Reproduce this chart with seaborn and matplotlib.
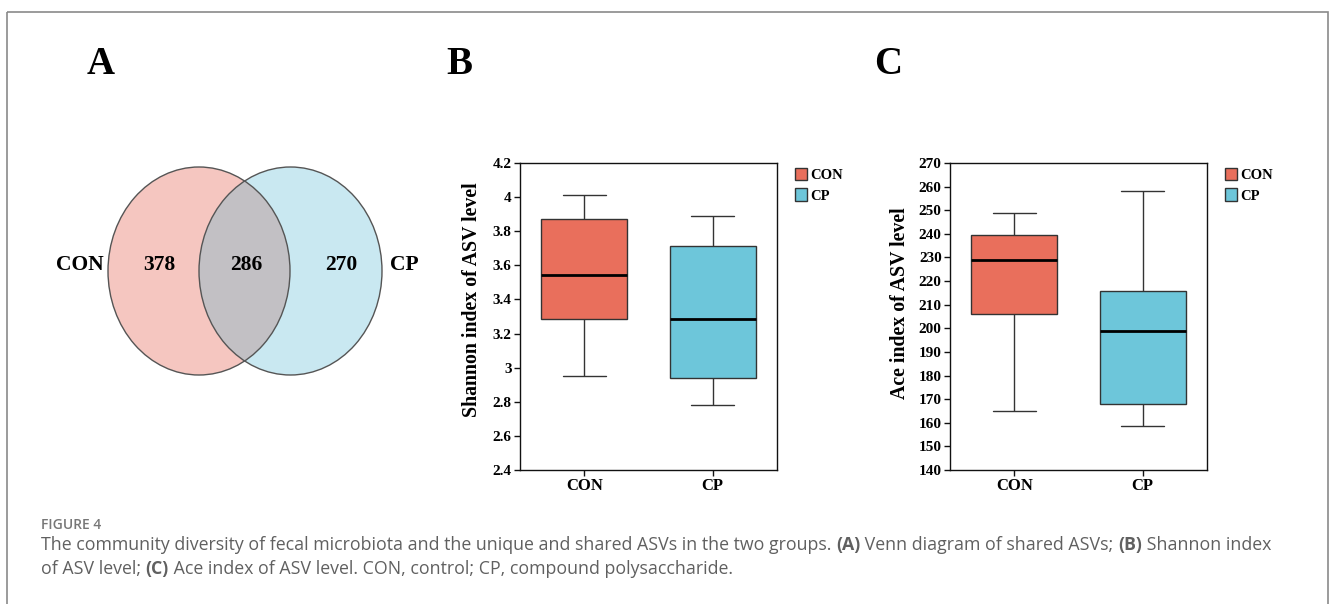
import numpy as np
import pandas as pd
import matplotlib
matplotlib.use("Agg")
import matplotlib.pyplot as plt
import seaborn as sns
from matplotlib.patches import Ellipse, Rectangle, Patch
from matplotlib.ticker import FormatStrFormatter

# ---------------- data ----------------
groups = ["CON", "CP"]
# five-number summaries: low whisker, Q1, median, Q3, high whisker
shannon_con = [2.95, 3.285, 3.545, 3.87, 4.01]
shannon_cp = [2.78, 2.94, 3.285, 3.715, 3.89]
ace_con = [165, 206, 229, 239.5, 249]
ace_cp = [158.5, 168, 199, 216, 258]
shannon_ticks = [2.4, 2.6, 2.8, 3.0, 3.2, 3.4, 3.6, 3.8, 4.0, 4.2]
ace_ticks = [140, 150, 160, 170, 180, 190, 200, 210, 220, 230, 240, 250, 260, 270]
venn_sets = ["CON", "CP"]
venn_only_con = 378
venn_shared = 286
venn_only_cp = 270
panel_letters = ["A", "B", "C"]
caption_title = "FIGURE 4"
caption_line1 = [("The community diversity of fecal microbiota and the unique and shared ASVs in the two groups. ", "normal"),
                 ("(A)", "bold"), (" Venn diagram of shared ASVs; ", "normal"),
                 ("(B)", "bold"), (" Shannon index", "normal")]
caption_line2 = [("of ASV level; ", "normal"), ("(C)", "bold"),
                 (" Ace index of ASV level. CON, control; CP, compound polysaccharide.", "normal")]

palette = {"CON": "#E96F5C", "CP": "#6DC6DA"}
SERIF = "Liberation Serif"
SANS = "Open Sans"

sns.set_style("white")
plt.rcParams["font.family"] = [SERIF, "DejaVu Serif"]
plt.rcParams["text.color"] = "black"
plt.rcParams["axes.labelcolor"] = "black"
plt.rcParams["xtick.color"] = "black"
plt.rcParams["ytick.color"] = "black"

W, H = 1330, 604
fig = plt.figure(figsize=(W / 100, H / 100), dpi=100)

# overlay axes in pixel coordinates
ax0 = fig.add_axes([0, 0, 1, 1])
ax0.set_xlim(0, W)
ax0.set_ylim(H, 0)
ax0.axis("off")
ax0.set_zorder(-1)

# frame
ax0.add_patch(Rectangle((7, 11.5), 1321, 640, fill=False, edgecolor="#8a8a8a", lw=1.2))

# ---------------- Venn (panel A) ----------------
e_left = Ellipse((199, 271), 182, 208, facecolor="#F5C6C0", edgecolor="none")
e_right = Ellipse((290.5, 271), 183, 208, facecolor="#C9E8F1", edgecolor="none")
ax0.add_patch(e_left)
ax0.add_patch(e_right)
e_mid = Ellipse((290.5, 271), 183, 208, facecolor="#C2C0C4", edgecolor="none")
ax0.add_patch(e_mid)
e_mid.set_clip_path(e_left)
for c, w in [((199, 271), 182), ((290.5, 271), 183)]:
    ax0.add_patch(Ellipse(c, w, 208, fill=False, edgecolor="#555555", lw=1.0))

vkw = dict(fontsize=15.5, fontweight="bold", ha="center", va="center", family=SERIF)
ax0.text(80, 265, venn_sets[0], **vkw)
ax0.text(159, 265, str(venn_only_con), **vkw)
ax0.text(246, 265, str(venn_shared), **vkw)
ax0.text(341, 265, str(venn_only_cp), **vkw)
ax0.text(404, 265, venn_sets[1], **vkw)

# panel letters
for lx, letter in zip([101, 459, 888], panel_letters):
    ax0.text(lx, 64, letter, fontsize=28, fontweight="bold", ha="center", va="center", family=SERIF)

# ---------------- box panels ----------------
def box_panel(rect, con_vals, cp_vals, ticks, ylabel, fmt, label_xy):
    ax = fig.add_axes(rect)
    df = pd.DataFrame({"group": np.repeat(groups, len(con_vals)),
                       "value": list(con_vals) + list(cp_vals)})
    sns.boxplot(data=df, x="group", y="value", hue="group", palette=palette,
                width=0.67, whis=(0, 100), linecolor="#333333", linewidth=1.0,
                saturation=1, legend=False,
                medianprops=dict(color="black", linewidth=2.0), ax=ax)
    ax.set_ylim(ticks[0], ticks[-1])
    ax.set_xlim(-0.5, 1.5)
    ax.set_yticks(ticks)
    ax.yaxis.set_major_formatter(FormatStrFormatter(fmt))
    ax.set_xlabel("")
    ax.set_ylabel(ylabel, fontsize=14.3, fontweight="bold")
    ax.yaxis.set_label_coords(*label_xy)
    for s in ax.spines.values():
        s.set_visible(True)
        s.set_color("#111111")
        s.set_linewidth(1.0)
    ax.tick_params(axis="y", which="both", left=True, length=4, width=1, color="#111111",
                   labelsize=11, pad=2)
    ax.tick_params(axis="x", bottom=True, length=4, width=1, color="#111111",
                   labelsize=12, pad=2)
    for lab in ax.get_yticklabels() + ax.get_xticklabels():
        lab.set_fontweight("bold")
    handles = [Patch(facecolor=palette[g], edgecolor="#333333", lw=1.0, label=g) for g in groups]
    ax.legend(handles=handles, loc="upper left", bbox_to_anchor=(1.07, 0.985), frameon=False,
              handlelength=0.85, handleheight=0.95, handletextpad=0.2, labelspacing=0.45,
              borderpad=0, borderaxespad=0,
              prop=dict(family=SERIF, weight="bold", size=10.5))
    return ax

axB = box_panel([520 / W, 1 - 470 / H, 257 / W, 307 / H], shannon_con, shannon_cp,
                shannon_ticks, "Shannon index of ASV level", "%g", (-0.148, 0.555))
axC = box_panel([950 / W, 1 - 470 / H, 257 / W, 307 / H], ace_con, ace_cp,
                ace_ticks, "Ace index of ASV level", "%g", (-0.157, 0.542))

# ---------------- caption ----------------
CAP_X = 41
ax0.text(CAP_X, 529, caption_title, fontsize=10, fontweight="semibold", color="#777777",
         family=SANS, ha="left", va="baseline")

def rich_line(x, y, parts, size):
    texts = []
    prev = None
    for s, wt in parts:
        if prev is None:
            t = ax0.text(x, y, s, fontsize=size, fontweight=wt, color="#606060",
                         family=SANS, ha="left", va="baseline")
        else:
            t = ax0.annotate(s, xy=(1, 0), xycoords=prev, fontsize=size, fontweight=wt,
                             color="#606060", family=SANS, ha="left", va="bottom")
        texts.append(t)
        prev = t
    return texts

# fit caption font size so line 1 spans to ~x=1273
renderer = fig.canvas.get_renderer()
base = 11.0
tmp = rich_line(CAP_X, 550, caption_line1, base)
fig.canvas.draw()
right = tmp[-1].get_window_extent(renderer).x1
left = tmp[0].get_window_extent(renderer).x0
for t in tmp:
    t.remove()
size = base * (1273 - CAP_X) / (right - left)
rich_line(CAP_X, 550, caption_line1, size)
rich_line(CAP_X, 574, caption_line2, size)

fig.savefig("out.png", dpi=100)
